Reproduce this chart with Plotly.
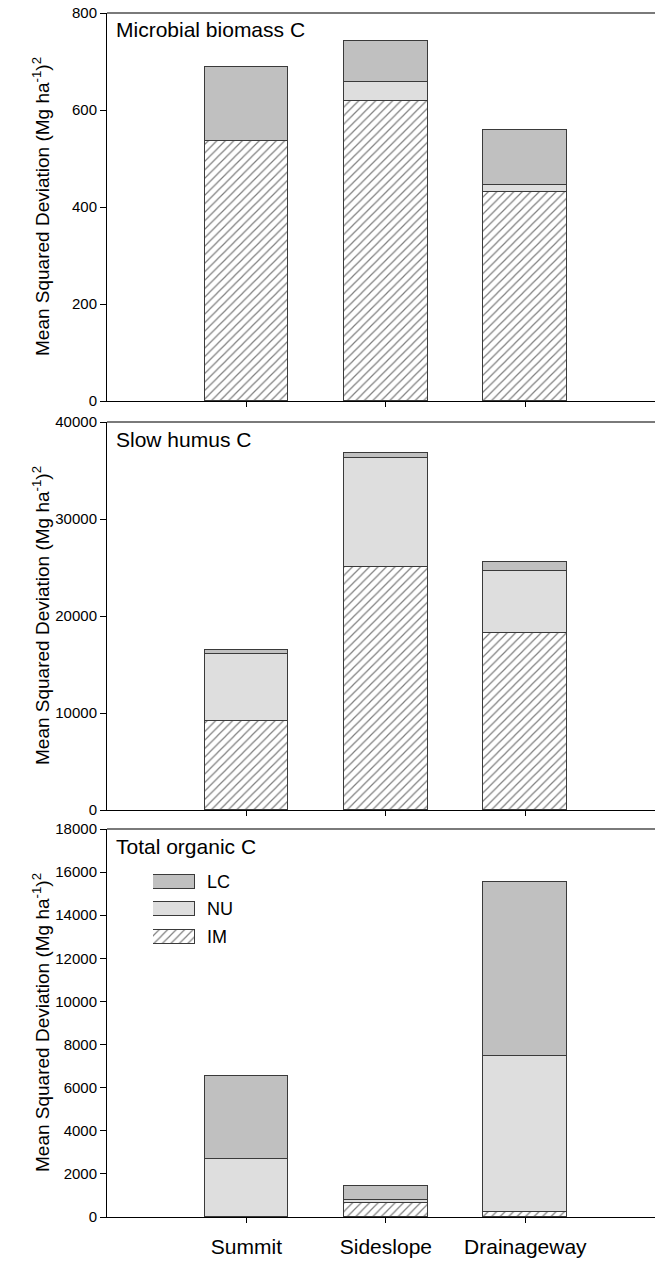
import plotly.graph_objects as go

# Landscape positions along the toposequence
sites = ["Summit", "Sideslope", "Drainageway"]
site_pos = [1, 2, 3]

# Components of mean squared deviation
components = ["LC", "NU", "IM"]

# Microbial biomass C
microbial_im = [537, 618, 430]
microbial_nu = [0, 40, 16]
microbial_lc = [152, 85, 113]

# Slow humus C
humus_im = [9140, 25020, 18210]
humus_nu = [6910, 11230, 6460]
humus_lc = [480, 520, 870]

# Total organic C
total_im = [0, 640, 220]
total_nu = [2675, 135, 7235]
total_lc = [3880, 677, 8072]

panel_titles = ["Microbial biomass C", "Slow humus C", "Total organic C"]
panel_ymax = [800, 40000, 18000]
panel_dtick = [200, 10000, 2000]

panels = [
    (microbial_im, microbial_nu, microbial_lc),
    (humus_im, humus_nu, humus_lc),
    (total_im, total_nu, total_lc),
]

FONT = "Arial, Liberation Sans, sans-serif"
LC_COLOR = "#c0c0c0"
NU_COLOR = "#dedede"
EDGE = "#3a3a3a"
hatch = dict(shape="/", fgcolor="black", bgcolor="white", size=6, solidity=0.2)

fig = go.Figure()

# figure geometry (pixels)
W, H = 655, 1261
L, R, T, B = 107, 0, 13, 44
plot_h = H - T - B
panel_px = [(13, 401), (422, 810), (829, 1217)]


def frac(py):
    return (H - B - py) / plot_h


for i, (im, nu, lc) in enumerate(panels):
    ax = "" if i == 0 else str(i + 1)
    xa, ya = "x" + ax, "y" + ax
    fig.add_trace(go.Bar(x=site_pos, y=im, name="IM", xaxis=xa, yaxis=ya, width=0.6,
                         marker=dict(color="white", pattern=hatch,
                                     line=dict(color=EDGE, width=1)),
                         showlegend=False))
    fig.add_trace(go.Bar(x=site_pos, y=nu, name="NU", xaxis=xa, yaxis=ya, width=0.6,
                         marker=dict(color=NU_COLOR, line=dict(color=EDGE, width=1)),
                         showlegend=False))
    fig.add_trace(go.Bar(x=site_pos, y=lc, name="LC", xaxis=xa, yaxis=ya, width=0.6,
                         marker=dict(color=LC_COLOR, line=dict(color=EDGE, width=1)),
                         showlegend=False))

    top_px, bot_px = panel_px[i]
    xaxis_cfg = dict(
        domain=[0, 1], anchor=ya, range=[0, 3.93],
        tickmode="array", tickvals=site_pos,
        showticklabels=(i == 2),
        ticks="outside", ticklen=5, tickcolor="black", tickwidth=1,
        ticklabelstandoff=6,
        showline=True, linecolor="black", linewidth=1,
        showgrid=False, zeroline=False,
        tickfont=dict(family=FONT, size=21, color="black"),
        fixedrange=True,
    )
    if i == 2:
        xaxis_cfg["ticktext"] = sites
    fig.layout["xaxis" + ax] = xaxis_cfg
    fig.layout["yaxis" + ax] = dict(
        domain=[frac(bot_px), frac(top_px)], anchor=xa,
        range=[0, panel_ymax[i]], dtick=panel_dtick[i], tick0=0,
        tickformat="d",
        ticks="outside", ticklen=6, tickcolor="black", tickwidth=1,
        showline=True, linecolor="black", linewidth=1,
        showgrid=False, zeroline=False,
        tickfont=dict(family=FONT, size=15, color="black"),
        fixedrange=True,
    )

    # top frame line of the panel
    fig.add_shape(type="line", xref=xa + " domain", yref=ya + " domain",
                  x0=0, x1=1, y0=1, y1=1,
                  line=dict(color="#7a7a7a", width=2))

    # panel title
    fig.add_annotation(text=panel_titles[i], xref=xa + " domain", yref=ya + " domain",
                       x=7 / (W - L), y=1 - 17 / 388, xanchor="left", yanchor="middle",
                       showarrow=False, font=dict(family=FONT, size=21, color="black"))

    # y-axis title
    fig.add_annotation(text="Mean Squared Deviation (Mg ha<sup>-1</sup>)<sup>2</sup>",
                       xref="paper", yref=ya + " domain",
                       x=(41 - L) / (W - L), y=0.5, textangle=-90,
                       xanchor="center", yanchor="middle", showarrow=False,
                       font=dict(family=FONT, size=19, color="black"))

# Legend drawn as a small inset axis inside the bottom panel
legend_top, legend_step = 868, 27.5
fig.layout["xaxis4"] = dict(domain=[(153 - L) / (W - L), (195 - L) / (W - L)],
                            anchor="y4", range=[0, 1], visible=False, fixedrange=True)
fig.layout["yaxis4"] = dict(domain=[frac(legend_top + 3 * legend_step), frac(legend_top)],
                            anchor="x4", range=[0, 3], visible=False, fixedrange=True)
legend_styles = {
    "LC": dict(color=LC_COLOR, line=dict(color=EDGE, width=1)),
    "NU": dict(color=NU_COLOR, line=dict(color=EDGE, width=1)),
    "IM": dict(color="white", pattern=hatch, line=dict(color=EDGE, width=1)),
}
for k, name in enumerate(components):
    slot = 2.5 - k
    fig.add_trace(go.Bar(x=[1], y=[slot], orientation="h", width=0.52,
                         xaxis="x4", yaxis="y4", marker=legend_styles[name],
                         showlegend=False, hoverinfo="skip"))
    fig.add_annotation(text=name, xref="paper", yref="y4",
                       x=(205 - L) / (W - L), y=slot, xanchor="left", yanchor="middle",
                       showarrow=False, font=dict(family=FONT, size=18, color="black"))

fig.update_layout(
    width=W, height=H,
    margin=dict(l=L, r=R, t=T, b=B, pad=0),
    barmode="stack",
    bargap=0,
    plot_bgcolor="white",
    paper_bgcolor="white",
    font=dict(family=FONT, color="black"),
    showlegend=False,
)

fig.write_html("out.html")
